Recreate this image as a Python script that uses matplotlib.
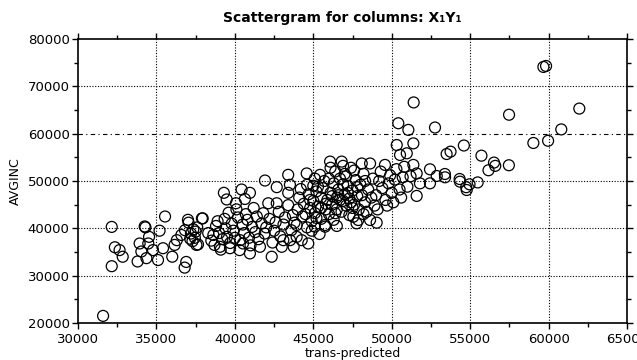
import matplotlib
matplotlib.use("Agg")
import matplotlib.pyplot as plt
from matplotlib.ticker import MultipleLocator

# ---- data ----
x_low = [31600, 32150, 32150, 32350, 32650, 32850, 33800, 33930, 34040, 34250, 34300, 34360,
         34530, 34480, 34780, 35100, 35200, 35420, 35550, 36010, 36160, 36300, 36590, 36820,
         36900, 36800, 37010, 37050, 37200, 37300, 37450, 37550, 37650, 37350, 37600, 37900,
         37150, 37500]
y_low = [21500, 40300, 32000, 36000, 35400, 34000, 33000, 36800, 35100, 40400, 40200, 33700,
         38200, 36800, 35400, 33300, 39500, 35800, 42500, 34000, 36500, 37500, 38600, 39600,
         32900, 31700, 41800, 41200, 38900, 37300, 38000, 36500, 36600, 39800, 40200, 42100,
         37800, 39300]

x_mid = [37950, 38300, 38500, 38630, 38700, 38800, 38900, 39000, 39050, 39100, 39200, 39300,
         39350, 39400, 39480, 39500, 39600, 39690, 39700, 39800, 39900, 40000, 40070, 40100,
         40200, 40300, 40330, 40430, 40500, 40520, 40600, 40640, 40700, 40800, 40900, 40960,
         40960, 41000, 41100, 41200, 41300, 41400, 41500, 41600, 41700, 41810, 41900, 41920,
         42000, 42130, 42200, 42350, 42400, 42500, 42600, 42670, 42670, 42800, 42900, 42990,
         43100, 43200, 43400, 43400, 43400, 43510, 43520, 43600, 43700, 43750, 43800, 43940,
         43940, 43090, 44680]
y_mid = [42100, 39000, 37400, 38600, 36500, 40500, 41500, 39000, 36100, 35500, 37700, 47500,
         42000, 40000, 46100, 38200, 43300, 35800, 36900, 41000, 39500, 38000, 45300, 44000,
         42300, 35400, 37500, 48200, 40800, 36800, 39000, 46200, 43000, 41800, 38000, 47500,
         34700, 36400, 40300, 44300, 39200, 42500, 37700, 36100, 41000, 43200, 38900, 50100,
         40200, 45300, 42000, 34000, 37000, 39500, 41300, 48700, 45300, 43500, 38300, 36100,
         40800, 42300, 51300, 47500, 44900, 49200, 37500, 39600, 42800, 36100, 41200, 40700,
         38200, 37500, 36800]

x_main = [44000, 44100, 44200, 44260, 44300, 44400, 44500, 44580, 44600, 44700, 44800, 44900,
          45000, 45000, 45100, 45100, 45200, 45300, 45430, 45500, 45500, 45600, 45700, 45750,
          45800, 45900, 46000, 46070, 46100, 46200, 46300, 46300, 46400, 46500, 46500, 46600,
          46700, 46810, 46800, 46900, 47000, 47000, 47100, 47200, 47300, 47300, 47400, 47500,
          47550, 47600, 47700, 47800, 47870, 47900, 48000, 48090, 48100, 48200, 48300, 48400,
          48500, 48620, 48620, 48700, 48800, 48900,
          45800, 46200, 46700, 47200, 46000, 45300, 47500, 46900, 45500, 44800, 47800, 46400,
          45200, 47100, 44600, 48300, 46600, 47400, 44900, 46500, 45750, 47760, 45400, 46900,
          47600, 48200, 45100, 46100]
y_main = [44000, 46500, 48300, 37500, 42500, 45200, 43000, 51600, 40200, 47200, 44300, 41500,
          49000, 45800, 40350, 43200, 47800, 44600, 51300, 42000, 46500, 48500, 50000, 40350,
          44000, 46000, 43000, 54100, 47500, 45000, 49500, 41800, 52000, 46500, 44000, 48200,
          50500, 54100, 43500, 45800, 47200, 51500, 44800, 49000, 42800, 46300, 52800, 48000,
          42450, 45000, 50200, 46800, 41760, 44000, 49200, 53700, 47000, 51500, 45500, 43500,
          48200, 53700, 41760, 46500, 50500, 44800,
          45200, 46800, 46000, 47500, 50500, 48800, 44300, 49300, 44300, 46000, 48700, 43200,
          42200, 51000, 49200, 50000, 47000, 45500, 39500, 40500, 40700, 41060, 38800, 53200,
          52200, 43000, 50500, 52800]

x_high = [49000, 49100, 49040, 49200, 49300, 49400, 49570, 49600, 49700, 49800, 49900, 50000,
          50100, 50200, 50300, 50320, 50420, 50530, 50500, 50600, 50700, 50800, 50960, 51060,
          51000, 51200, 51380, 51380, 51400, 51590, 51590, 51800,
          52440, 52440, 52760, 52870, 53390, 53400, 53500, 53750, 54330, 54350, 54600, 54750,
          54780, 54960, 55480, 55720, 56170, 56520, 56600, 57470, 57480, 59030, 59670, 59840,
          59970, 60810, 61960]
y_high = [47000, 44000, 41200, 50000, 52000, 48500, 53400, 46000, 44800, 49500, 51200, 47500,
          45500, 50300, 52500, 57600, 62200, 55500, 48200, 46500, 50800, 53000, 55850, 60800,
          48800, 51000, 57950, 53400, 66600, 51600, 46850, 49500,
          52470, 49510, 61300, 51060, 51480, 50780, 55700, 56200, 50420, 49860, 57500, 48690,
          48100, 49300, 49700, 55350, 52270, 53890, 53200, 53330, 64000, 58030, 74100, 74300,
          58500, 60900, 65300]

x_ticks = [30000, 35000, 40000, 45000, 50000, 55000, 60000, 65000]
y_ticks = [20000, 30000, 40000, 50000, 60000, 70000, 80000]

xs = x_low + x_mid + x_main + x_high
ys = y_low + y_mid + y_main + y_high

fig = plt.figure(figsize=(6.37, 3.60), dpi=100)
ax = fig.add_axes([78 / 637, 1 - 323 / 360, (627 - 78) / 637, (323 - 39) / 360])

# grid
for xv in x_ticks[1:-1]:
    ax.axvline(xv, color="black", lw=0.8, ls=(0, (1, 1.5)), zorder=1)
for yv in y_ticks[1:-1]:
    if yv == 60000:
        ax.axhline(yv, color="black", lw=0.8, ls=(0, (4, 3, 1, 3)), zorder=1)
    else:
        ax.axhline(yv, color="black", lw=0.8, ls=(0, (1, 1.5)), zorder=1)

ax.scatter(xs, ys, s=62, facecolors="none", edgecolors="black", linewidths=0.9, zorder=3)

ax.set_xlim(30000, 65000)
ax.set_ylim(20000, 80000)
ax.set_xticks(x_ticks)
ax.set_yticks(y_ticks)
ax.xaxis.set_minor_locator(MultipleLocator(2500))
ax.yaxis.set_minor_locator(MultipleLocator(5000))
ax.tick_params(axis="both", which="major", direction="out", length=4, width=1,
               labelsize=9.5, pad=2, top=True, right=True)
ax.tick_params(axis="both", which="minor", direction="out", length=3, width=1,
               top=True, right=True)
ax.tick_params(axis="x", which="both", top=True)
ax.tick_params(axis="x", which="major", pad=3)

for sp in ax.spines.values():
    sp.set_linewidth(1.2)

ax.set_xlabel("trans-predicted", fontsize=9, labelpad=1)
ax.set_ylabel("AVGINC", fontsize=9, labelpad=4)
fig.text(342 / 637, 1 - 18 / 360, "Scattergram for columns: X\u2081Y\u2081",
         ha="center", va="center", fontsize=10, fontweight="bold")

fig.savefig("out.png", dpi=100)
